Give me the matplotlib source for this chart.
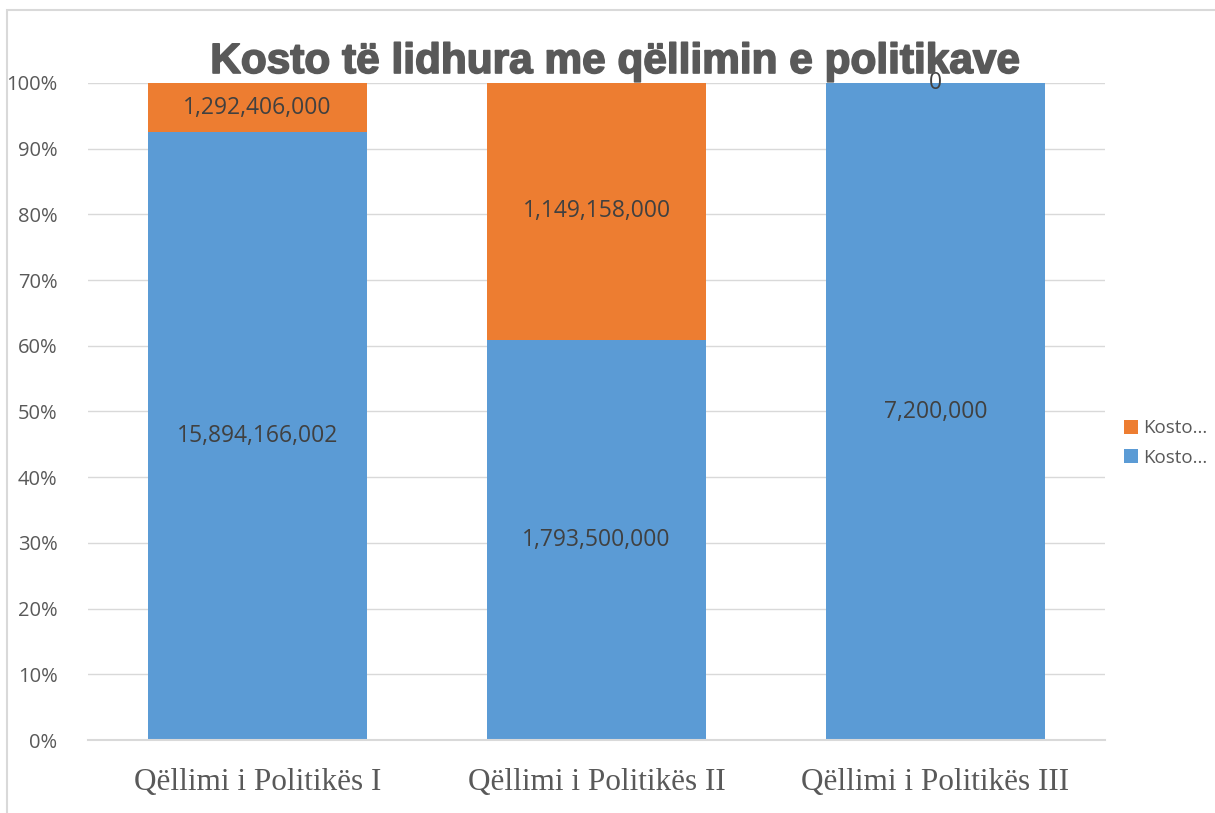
import numpy as np
import matplotlib.pyplot as plt
import matplotlib.patheffects as pe
from matplotlib.patches import Rectangle

categories = ['Qëllimi i Politikës I', 'Qëllimi i Politikës II', 'Qëllimi i Politikës III']
kosto_blue = [15894166002, 1793500000, 7200000]
kosto_orange = [1292406000, 1149158000, 0]
series_names = ['Kosto...', 'Kosto...']
yticks = [0, 10, 20, 30, 40, 50, 60, 70, 80, 90, 100]

blue = '#5B9BD5'
orange = '#ED7D31'
txt = '#595959'

fig = plt.figure(figsize=(12.15, 8.13), dpi=100)
ax = fig.add_axes([88/1215, 1-740/813, 1017/1215, 657/813])

b = np.array(kosto_blue, dtype=float)
o = np.array(kosto_orange, dtype=float)
tot = b + o
bp = b / tot * 100
op = o / tot * 100
x = np.arange(len(categories))

ax.bar(x, bp, width=0.645, color=blue, label=series_names[1], zorder=2)
ax.bar(x, op, width=0.645, bottom=bp, color=orange, label=series_names[0], zorder=2)

for i in range(len(x)):
    ax.text(x[i], bp[i]/2, '{:,}'.format(kosto_blue[i]), ha='center', va='center',
            fontsize=16.5, color='#404040', family='Open Sans', zorder=3)
    ax.text(x[i], bp[i] + op[i]/2, '{:,}'.format(kosto_orange[i]), ha='center', va='center',
            fontsize=16.5, color='#404040', family='Open Sans', zorder=3)

ax.set_xlim(-0.5, 2.5)
ax.set_ylim(0, 100)
ax.set_yticks(yticks)
ax.set_yticklabels(['{}%'.format(t) for t in yticks], fontsize=14.5, color=txt, family='Open Sans')
ax.set_xticks(x)
ax.set_xticklabels(categories, fontsize=22.5, color=txt, family='Liberation Serif')
ax.tick_params(length=0)
ax.tick_params(axis='x', pad=20)
ax.tick_params(axis='y', pad=22)
ax.grid(axis='y', color='#d9d9d9', linewidth=1, zorder=0)
for s in ['top', 'right', 'left']:
    ax.spines[s].set_visible(False)
ax.spines['bottom'].set_color('#d9d9d9')
ax.spines['bottom'].set_linewidth(1.5)

fig.text(616/1215, 1-62/813, 'Kosto të lidhura me qëllimin e politikave', ha='center', va='center',
         fontsize=30.5, fontweight='bold', color=txt, family='Liberation Sans',
         path_effects=[pe.withStroke(linewidth=1.2, foreground=txt)])

h, l = ax.get_legend_handles_labels()
leg = ax.legend(h[::-1], l[::-1], loc='center left', bbox_to_anchor=(1.0, 0.452),
                frameon=False, handlelength=0.75, handleheight=0.75, borderaxespad=0.6,
                handletextpad=0.3, labelspacing=0.6, prop={'family': 'Open Sans', 'size': 13.5})
for t in leg.get_texts():
    t.set_color(txt)

fig.add_artist(Rectangle((7/1215, -0.01), 1.1, 1-10/813 + 0.01, transform=fig.transFigure,
                         fill=False, edgecolor='#d9d9d9', linewidth=1.5))

fig.savefig('out.png', dpi=100)
